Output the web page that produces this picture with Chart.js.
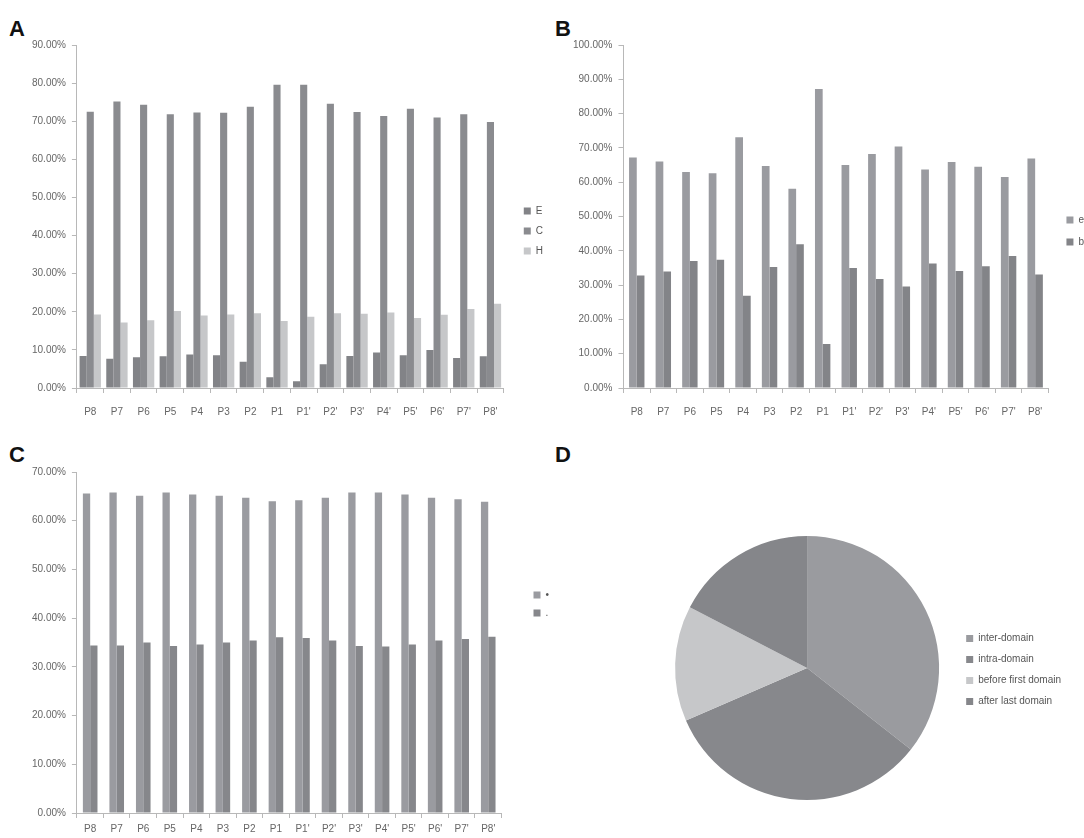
<!DOCTYPE html>
<html>
<head>
<meta charset="utf-8">
<script src="https://cdn.jsdelivr.net/npm/chart.js@4.4.1/dist/chart.umd.min.js"></script>
<style>
body{margin:0;background:#fff;width:1084px;height:838px;position:relative;overflow:hidden;font-family:"Liberation Sans",Arial,sans-serif}
.tag{position:absolute;font-weight:bold;font-size:22px;color:#111;line-height:22px}
canvas{position:absolute}
</style>
</head>
<body>
<div class="tag" style="left:9px;top:18px">A</div>
<div class="tag" style="left:555px;top:18px">B</div>
<div class="tag" style="left:9px;top:444px">C</div>
<div class="tag" style="left:555px;top:444px">D</div>
<canvas id="chartA" width="553" height="402" style="left:0;top:33px"></canvas>
<canvas id="chartB" width="555" height="402" style="left:539px;top:33px"></canvas>
<canvas id="chartC" width="554" height="384" style="left:0;top:460px"></canvas>
<canvas id="chartD" width="430" height="272" style="left:650px;top:532px"></canvas>
<script>
var positions = ["P8","P7","P6","P5","P4","P3","P2","P1","P1'","P2'","P3'","P4'","P5'","P6'","P7'","P8'"];

// panel A
var aE = [8.4,7.7,8.1,8.3,8.8,8.6,6.9,2.8,1.8,6.2,8.4,9.3,8.6,10.0,7.9,8.3];
var aC = [72.5,75.2,74.3,71.8,72.3,72.2,73.8,79.6,79.6,74.6,72.4,71.4,73.3,71.0,71.8,69.8];
var aH = [19.3,17.2,17.8,20.2,19.0,19.3,19.6,17.6,18.7,19.6,19.5,19.8,18.4,19.2,20.7,22.1];

// panel B
var bE = [67.2,66.0,63.0,62.6,73.1,64.7,58.1,87.2,65.0,68.2,70.4,63.7,65.9,64.5,61.5,66.9];
var bB = [32.8,34.0,37.0,37.4,26.9,35.3,41.9,12.8,35.0,31.8,29.6,36.3,34.1,35.5,38.5,33.1];

// panel C
var cDot = [65.6,65.8,65.1,65.8,65.4,65.1,64.7,64.0,64.2,64.7,65.8,65.8,65.4,64.7,64.4,63.9];
var cStop = [34.4,34.4,35.0,34.3,34.6,35.0,35.4,36.1,35.9,35.4,34.3,34.2,34.6,35.4,35.7,36.2];

// panel D
var domainLabels = ["inter-domain","intra-domain","before first domain","after last domain"];
var domainShare = [35.6,32.9,14.1,17.4];

var tickFont = {family:"Liberation Sans", size:10};
var axisGrey = "#b8b8b8";

// make the legend box wider and nudge it, Excel leaves more room before the legend
function legendNudge(extra, dx, dy){
	return {
		id: "legendNudge",
		beforeInit: function(chart){
			var fit = chart.legend.fit;
			chart.legend.fit = function(){
				fit.call(this);
				this.width += extra;
			};
		},
		afterLayout: function(chart){
			var lg = chart.legend;
			lg.left += dx; lg.right += dx;
			lg.top += dy; lg.bottom += dy;
		}
	};
}

function barChart(id, sets, yMax, catPct, spacing, padLeft, labelPad, nudge){
	return new Chart(document.getElementById(id), {
		type: "bar",
		data: {labels: positions, datasets: sets},
		options: {
			responsive: false,
			animation: false,
			devicePixelRatio: 1,
			layout: {padding: {left: padLeft, top: 2, right: 0, bottom: 4}},
			datasets: {bar: {categoryPercentage: catPct, barPercentage: 1}},
			scales: {
				x: {
					border: {color: axisGrey},
					grid: {drawOnChartArea: false, tickLength: 5, color: axisGrey},
					ticks: {color: "#666", font: tickFont, padding: labelPad, maxRotation: 0, autoSkip: false}
				},
				y: {
					min: 0, max: yMax,
					border: {color: axisGrey},
					grid: {drawOnChartArea: false, tickLength: 5, color: axisGrey},
					ticks: {
						stepSize: 10, color: "#666", font: tickFont, padding: 6,
						callback: function(v){ return v.toFixed(2) + "%"; }
					}
				}
			},
			plugins: {
				legend: {
					position: "right",
					labels: {boxWidth: 7, boxHeight: 7, color: "#555", font: tickFont, padding: spacing}
				},
				tooltip: {enabled: false}
			}
		},
		plugins: [nudge]
	});
}

barChart("chartA", [
	{label: "E", data: aE, backgroundColor: "#828387"},
	{label: "C", data: aC, backgroundColor: "#8a8b8f"},
	{label: "H", data: aH, backgroundColor: "#c6c7c9"}
], 90, 0.8, 10, 26, 13, legendNudge(10, 10, -2));

barChart("chartB", [
	{label: "e", data: bE, backgroundColor: "#9a9ba0"},
	{label: "b", data: bB, backgroundColor: "#838488"}
], 100, 0.58, 12, 28, 13, legendNudge(6, 6, -2));

barChart("chartC", [
	{label: "\u2022", data: cDot, backgroundColor: "#9a9ba0"},
	{label: ".", data: cStop, backgroundColor: "#86878b"}
], 70, 0.55, 8, 26, 5, legendNudge(19, 24, -47));

new Chart(document.getElementById("chartD"), {
	type: "pie",
	data: {
		labels: domainLabels,
		datasets: [{
			data: domainShare,
			backgroundColor: ["#9a9b9f","#87888c","#c6c7c9","#85868a"],
			borderWidth: 0
		}]
	},
	options: {
		responsive: false,
		animation: false,
		devicePixelRatio: 1,
		layout: {padding: 4},
		plugins: {
			legend: {
				position: "right",
				labels: {boxWidth: 7, boxHeight: 7, color: "#555", font: tickFont, padding: 11}
			},
			tooltip: {enabled: false}
		}
	},
	plugins: [legendNudge(0, -5, 2)]
});
</script>
</body>
</html>
